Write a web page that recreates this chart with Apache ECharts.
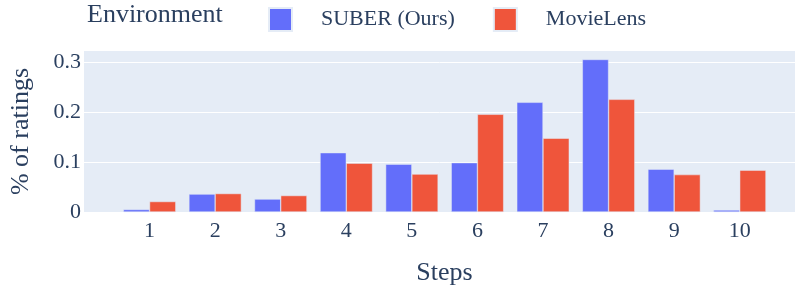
<!DOCTYPE html>
<html>
<head>
<meta charset="utf-8">
<script src="https://cdn.jsdelivr.net/npm/echarts@6/dist/echarts.min.js"></script>
<style>html,body{margin:0;padding:0;background:#fff}#c{width:795px;height:291px}</style>
</head>
<body>
<div id="c"></div>
<script>
const steps = [1, 2, 3, 4, 5, 6, 7, 8, 9, 10];
const suberValues = [0.005, 0.036, 0.026, 0.119, 0.096, 0.099, 0.220, 0.306, 0.086, 0.004];
const movieLensValues = [0.021, 0.037, 0.033, 0.098, 0.076, 0.196, 0.148, 0.226, 0.075, 0.084];
const seriesNames = ['SUBER (Ours)', 'MovieLens'];
const legendTitle = 'Environment';
const xTitle = 'Steps';
const yTitle = '% of ratings';

const FONT = "'Liberation Serif', 'Times New Roman', serif";
const INK = '#2a3f5f';
const chart = echarts.init(document.getElementById('c'), null, {renderer: 'canvas'});
const barStyle = (color) => ({color: color, borderColor: '#E5ECF6', borderWidth: 0.5});
chart.setOption({
  animation: false,
  textStyle: {fontFamily: FONT, color: INK},
  title: {
    text: legendTitle, left: 87, top: 2, padding: 0,
    textStyle: {fontFamily: FONT, fontSize: 26, fontWeight: 'normal', color: INK}
  },
  legend: {
    left: 268, top: 7, padding: 0, itemWidth: 23, itemHeight: 23, itemGap: 38,
    icon: 'rect',
    textStyle: {fontFamily: FONT, fontSize: 22, color: INK, padding: [7, 0, 0, 24]},
    data: seriesNames
  },
  grid: {
    left: 83, right: 0, top: 51, bottom: 291 - 212.7,
    show: true, backgroundColor: '#E5ECF6', borderWidth: 0
  },
  xAxis: {
    type: 'value', min: 0, max: 10.843, interval: 1,
    name: xTitle, nameLocation: 'middle', nameGap: 48,
    nameTextStyle: {fontFamily: FONT, fontSize: 26, color: INK, padding: [0, 0, 0, 10]},
    axisLine: {show: false}, axisTick: {show: false}, splitLine: {show: false},
    axisLabel: {
      fontFamily: FONT, fontSize: 22, color: INK, margin: 8,
      showMinLabel: false, showMaxLabel: false,
      formatter: (v) => (steps.indexOf(v) >= 0 ? String(v) : '')
    }
  },
  yAxis: {
    type: 'value', min: 0, max: 0.323, interval: 0.1,
    name: yTitle, nameLocation: 'middle', nameGap: 50,
    nameTextStyle: {fontFamily: FONT, fontSize: 26, color: INK},
    axisLine: {show: false}, axisTick: {show: false},
    splitLine: {show: true, showMinLine: false, showMaxLine: false, lineStyle: {color: '#ffffff', width: 1}},
    axisLabel: {
      fontFamily: FONT, fontSize: 22, color: INK, margin: 3,
      formatter: (v) => {
        const k = Math.round(v * 10);
        if (Math.abs(v * 10 - k) > 1e-6) return '';
        return k === 0 ? '0' : (k / 10).toFixed(1);
      }
    }
  },
  series: [
    {
      name: seriesNames[0], type: 'bar', barWidth: '40%', barGap: '0%',
      itemStyle: barStyle('#636EFA'),
      data: steps.map((s, i) => [s, suberValues[i]])
    },
    {
      name: seriesNames[1], type: 'bar', barWidth: '40%', barGap: '0%',
      itemStyle: barStyle('#EF553B'),
      data: steps.map((s, i) => [s, movieLensValues[i]])
    }
  ]
});
</script>
</body>
</html>
